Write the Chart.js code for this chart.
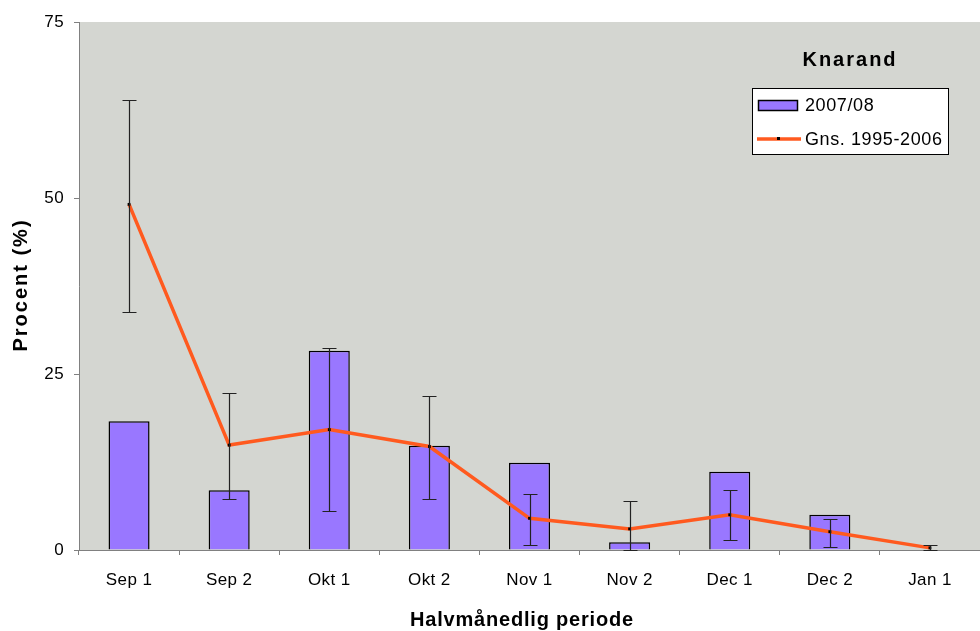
<!DOCTYPE html>
<html>
<head>
<meta charset="utf-8">
<script src="https://cdn.jsdelivr.net/npm/chart.js@4/dist/chart.umd.min.js"></script>
<style>
  html, body { margin: 0; padding: 0; background: #fff; }
  #wrap { position: relative; width: 980px; height: 631px; }
</style>
</head>
<body>
<div id="wrap"><canvas id="chart" width="980" height="631"></canvas></div>
<script>
// Knarand: share per half-month period, 2007/08 bars against the 1995-2006
// average line with its min/max spread drawn as error bars.
const PERIODS = ['Sep 1', 'Sep 2', 'Okt 1', 'Okt 2', 'Nov 1', 'Nov 2', 'Dec 1', 'Dec 2', 'Jan 1'];
const SEASON_2007 = [18.3, 8.5, 28.3, 14.8, 12.4, 1.1, 11.1, 5.0, 0];
const AVG_1995_2006 = [49.1, 14.9, 17.1, 14.7, 4.5, 3.0, 5.0, 2.6, 0.3];
const AVG_HIGH = [63.9, 22.3, 28.7, 21.9, 8.0, 7.0, 8.5, 4.4, 0.7];
const AVG_LOW = [33.8, 7.2, 5.5, 7.2, 0.7, 0, 1.4, 0.4, 0];
const Y_TICKS = [0, 25, 50, 75];

const FONT = '"Liberation Sans", Arial, sans-serif';
const PLOT_BG = '#D4D6D1';
const BAR_COLOR = '#9977FF';
const LINE_COLOR = '#FF5A1F';

// gray plot area behind everything; Excel-like loose letter spacing for ticks
const plotBackground = {
  id: 'plot-bg',
  beforeDraw(chart) {
    const { ctx, chartArea: a } = chart;
    ctx.save();
    ctx.fillStyle = PLOT_BG;
    ctx.fillRect(a.left, a.top, a.right - a.left, a.bottom - a.top);
    ctx.restore();
    ctx.letterSpacing = '0.4px';
  }
};

// min/max whiskers around the average line, through the scales
const errorBars = {
  id: 'error-bars',
  afterDatasetsDraw(chart) {
    const { ctx, scales } = chart;
    ctx.save();
    ctx.strokeStyle = '#222';
    ctx.lineWidth = 1.2;
    PERIODS.forEach((p, i) => {
      const x = Math.round(scales.x.getPixelForValue(i)) + 0.5;
      const yh = Math.round(scales.y.getPixelForValue(AVG_HIGH[i])) + 0.5;
      const yl = Math.round(scales.y.getPixelForValue(AVG_LOW[i])) + 0.5;
      ctx.beginPath();
      ctx.moveTo(x, yh); ctx.lineTo(x, yl);
      ctx.moveTo(x - 7, yh); ctx.lineTo(x + 7, yh);
      ctx.moveTo(x - 7, yl); ctx.lineTo(x + 7, yl);
      ctx.stroke();
    });
    ctx.restore();
  }
};

// axis titles, "Knarand" heading and the boxed legend, Excel style
const annotations = {
  id: 'annotations',
  afterDraw(chart) {
    const ctx = chart.ctx;
    ctx.save();
    ctx.fillStyle = '#000';
    ctx.textAlign = 'center';
    ctx.textBaseline = 'alphabetic';

    ctx.font = `bold 20px ${FONT}`;
    ctx.letterSpacing = '0.8px';
    ctx.fillText('Halvmånedlig periode', 522, 626);

    ctx.save();
    ctx.translate(27, 285);
    ctx.rotate(-Math.PI / 2);
    ctx.letterSpacing = '2px';
    ctx.fillText('Procent (%)', 0, 0);
    ctx.restore();

    ctx.letterSpacing = '2px';
    ctx.fillText('Knarand', 850, 66);

    ctx.letterSpacing = '0px';
    ctx.fillStyle = '#fff';
    ctx.fillRect(752, 88, 197, 67);
    ctx.strokeStyle = '#000';
    ctx.lineWidth = 1;
    ctx.strokeRect(752.5, 88.5, 196, 66);

    ctx.fillStyle = BAR_COLOR;
    ctx.fillRect(758, 100, 40, 11);
    ctx.strokeStyle = '#000';
    ctx.lineWidth = 1.5;
    ctx.strokeRect(758.5, 100.5, 39, 10);

    ctx.strokeStyle = LINE_COLOR;
    ctx.lineWidth = 3.5;
    ctx.beginPath();
    ctx.moveTo(757, 139); ctx.lineTo(801, 139);
    ctx.stroke();
    ctx.fillStyle = '#000';
    ctx.fillRect(777, 137, 3, 3);

    ctx.font = `18px ${FONT}`;
    ctx.letterSpacing = '0.6px';
    ctx.textAlign = 'left';
    ctx.fillText('2007/08', 805, 111);
    ctx.fillText('Gns. 1995-2006', 805, 145);
    ctx.restore();
  }
};

new Chart(document.getElementById('chart').getContext('2d'), {
  data: {
    labels: PERIODS,
    datasets: [
      {
        type: 'line',
        label: 'Gns. 1995-2006',
        data: AVG_1995_2006,
        borderColor: LINE_COLOR,
        borderWidth: 3.5,
        pointStyle: 'rect',
        pointRadius: 2,
        pointBackgroundColor: '#000',
        pointBorderColor: '#000',
        pointBorderWidth: 0,
        tension: 0,
        order: 1
      },
      {
        type: 'bar',
        label: '2007/08',
        data: SEASON_2007,
        backgroundColor: BAR_COLOR,
        borderColor: '#000',
        borderWidth: 1.5,
        categoryPercentage: 1,
        barPercentage: 0.41,
        order: 2
      }
    ]
  },
  options: {
    responsive: false,
    animation: false,
    layout: { autoPadding: false, padding: { left: 0, right: 0, top: 22, bottom: 0 } },
    plugins: {
      legend: { display: false },
      tooltip: { enabled: false }
    },
    scales: {
      x: {
        offset: true,
        afterFit(scale) {
          scale.height = 81;
          scale.paddingLeft = 0;
          scale.paddingRight = 0;
        },
        grid: { offset: true, drawOnChartArea: false, drawTicks: true, tickLength: 5, color: '#808080' },
        border: { display: true, color: '#808080', width: 1 },
        ticks: { color: '#000', font: { family: FONT, size: 17 }, padding: 15, maxRotation: 0 }
      },
      y: {
        min: 0,
        max: 75,
        afterBuildTicks(axis) { axis.ticks = Y_TICKS.map((v) => ({ value: v })); },
        afterFit(scale) { scale.width = 79; },
        grid: { drawOnChartArea: false, drawTicks: true, tickLength: 5, color: '#808080' },
        border: { display: true, color: '#808080', width: 1 },
        ticks: { color: '#000', font: { family: FONT, size: 17 }, padding: 10 }
      }
    }
  },
  plugins: [plotBackground, errorBars, annotations]
});
</script>
</body>
</html>
